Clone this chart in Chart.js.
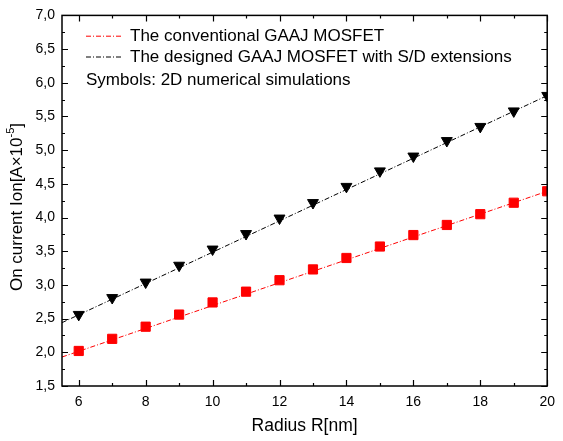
<!DOCTYPE html>
<html>
<head>
<meta charset="utf-8">
<script src="https://cdn.jsdelivr.net/npm/chart.js@4.4.1/dist/chart.umd.min.js"></script>
<style>
    html, body { margin: 0; padding: 0; background: #fff; }
    #wrap { width: 563px; height: 441px; }
</style>
</head>
<body>
<div id="wrap"><canvas id="ionChart"></canvas></div>
<script>
// values
const radius = [6, 7, 8, 9, 10, 11, 12, 13, 14, 15, 16, 17, 18, 19, 20];
const ionConventional = [2.02, 2.20, 2.38, 2.56, 2.74, 2.90, 3.07, 3.23, 3.40, 3.57, 3.74, 3.89, 4.05, 4.22, 4.39];
const ionExtended = [2.56, 2.81, 3.04, 3.29, 3.53, 3.76, 3.99, 4.22, 4.46, 4.69, 4.91, 5.14, 5.35, 5.58, 5.81];
// analytical model lines, end points read at the plot edges
const modelRadius = [5.5, 20];
const modelConventional = [1.93, 4.39];
const modelExtended = [2.44, 5.81];
const xTicks = [6, 8, 10, 12, 14, 16, 18, 20];
const yTicks = [1.5, 2.0, 2.5, 3.0, 3.5, 4.0, 4.5, 5.0, 5.5, 6.0, 6.5, 7.0];
const legendLabels = ['The conventional GAAJ MOSFET', 'The designed GAAJ MOSFET with S/D extensions', 'Symbols: 2D numerical simulations'];

const FONT = '"Liberation Sans", Arial, sans-serif';
Chart.defaults.font.family = FONT;
Chart.defaults.color = '#000';

function toPoints(xs, ys) {
    return xs.map((x, i) => ({ x: x, y: ys[i] }));
}

// frame with inward ticks on all four sides, the inset legend and the y title
const decorations = {
    id: 'decorations',
    afterDraw(chart) {
        const ctx = chart.ctx;
        const { left, right, top, bottom } = chart.chartArea;
        const xs = chart.scales.x, ys = chart.scales.y;
        ctx.save();
        ctx.strokeStyle = '#000';
        ctx.lineWidth = 1.5;
        ctx.setLineDash([]);
        ctx.strokeRect(left, top, right - left, bottom - top);

        ctx.lineWidth = 1.2;
        ctx.beginPath();
        for (let v = 6; v <= 20; v++) {
            const px = Math.round(xs.getPixelForValue(v)) + 0.5;
            const len = v % 2 === 0 ? 6 : 3;
            ctx.moveTo(px, bottom); ctx.lineTo(px, bottom - len);
            ctx.moveTo(px, top); ctx.lineTo(px, top + len);
        }
        for (let v = 1.5; v <= 7.001; v += 0.25) {
            const py = Math.round(ys.getPixelForValue(v)) + 0.5;
            const len = Math.abs(v * 2 - Math.round(v * 2)) < 0.01 ? 6 : 3;
            ctx.moveTo(left, py); ctx.lineTo(left + len, py);
            ctx.moveTo(right, py); ctx.lineTo(right - len, py);
        }
        ctx.stroke();

        // legend
        const rows = [35.7, 56.5, 79.5];
        ctx.font = '17px ' + FONT;
        ctx.textBaseline = 'middle';
        ctx.fillStyle = '#000';
        [chart.data.datasets[0], chart.data.datasets[1]].forEach((ds, i) => {
            ctx.strokeStyle = ds.borderColor;
            ctx.lineWidth = 1;
            ctx.setLineDash(ds.borderDash);
            ctx.beginPath();
            ctx.moveTo(86, rows[i] + 0.5);
            ctx.lineTo(123, rows[i] + 0.5);
            ctx.stroke();
            ctx.fillText(legendLabels[i], 130, rows[i] + 1);
        });
        ctx.setLineDash([]);
        ctx.fillText(legendLabels[2], 86, rows[2] + 1);

        // y title with superscript
        ctx.translate(17, 207);
        ctx.rotate(-Math.PI / 2);
        const main = 'On current Ion[A\u00d710';
        const sup = '-5';
        const tail = ']';
        ctx.font = '17px ' + FONT;
        const wMain = ctx.measureText(main).width;
        const wTail = ctx.measureText(tail).width;
        ctx.font = '11px ' + FONT;
        const wSup = ctx.measureText(sup).width;
        let x0 = -(wMain + wSup + wTail) / 2;
        ctx.textAlign = 'left';
        ctx.font = '17px ' + FONT;
        ctx.fillText(main, x0, 0);
        ctx.font = '11px ' + FONT;
        ctx.fillText(sup, x0 + wMain, -6);
        ctx.font = '17px ' + FONT;
        ctx.fillText(tail, x0 + wMain + wSup, 0);
        ctx.restore();
    }
};

const ctx = document.getElementById('ionChart').getContext('2d');
new Chart(ctx, {
    type: 'scatter',
    data: {
        datasets: [
            {
                label: legendLabels[0],
                data: toPoints(modelRadius, modelConventional),
                showLine: true,
                borderColor: '#ff0000',
                borderWidth: 1,
                borderDash: [5, 2, 1, 2],
                pointRadius: 0
            },
            {
                label: legendLabels[1],
                data: toPoints(modelRadius, modelExtended),
                showLine: true,
                borderColor: '#000000',
                borderWidth: 1,
                borderDash: [5, 2, 1, 2],
                pointRadius: 0
            },
            {
                label: 'conventional (2D)',
                data: toPoints(radius, ionConventional),
                showLine: false,
                pointStyle: 'rect',
                pointRadius: 6.5,
                borderWidth: 1,
                borderColor: '#ff0000',
                backgroundColor: '#ff0000'
            },
            {
                label: 'S/D extensions (2D)',
                data: toPoints(radius, ionExtended),
                showLine: false,
                pointStyle: 'triangle',
                rotation: 180,
                pointRadius: 6.3,
                borderWidth: 1,
                borderColor: '#000000',
                backgroundColor: '#000000'
            }
        ]
    },
    options: {
        responsive: true,
        maintainAspectRatio: false,
        animation: false,
        layout: {
            padding: { top: 12, right: 7, left: 0, bottom: 0 }
        },
        plugins: {
            legend: { display: false },
            tooltip: { enabled: false }
        },
        scales: {
            x: {
                type: 'linear',
                min: 5.5,
                max: 20,
                grid: { display: false, drawTicks: false },
                border: { display: false },
                afterBuildTicks: scale => { scale.ticks = xTicks.map(v => ({ value: v })); },
                afterFit: scale => { scale.height = 55; },
                ticks: {
                    padding: 8,
                    maxRotation: 0,
                    autoSkip: false,
                    font: { size: 14 }
                },
                title: {
                    display: true,
                    text: 'Radius R[nm]',
                    font: { size: 17.5 },
                    padding: { top: 0, bottom: 4 }
                }
            },
            y: {
                min: 1.5,
                max: 7,
                grid: { display: false, drawTicks: false },
                border: { display: false },
                afterBuildTicks: scale => { scale.ticks = yTicks.map(v => ({ value: v })); },
                afterFit: scale => { scale.width = 62; },
                ticks: {
                    padding: 7,
                    autoSkip: false,
                    font: { size: 14 },
                    callback: v => v.toFixed(1).replace('.', ',')
                }
            }
        }
    },
    plugins: [decorations]
});
</script>
</body>
</html>
